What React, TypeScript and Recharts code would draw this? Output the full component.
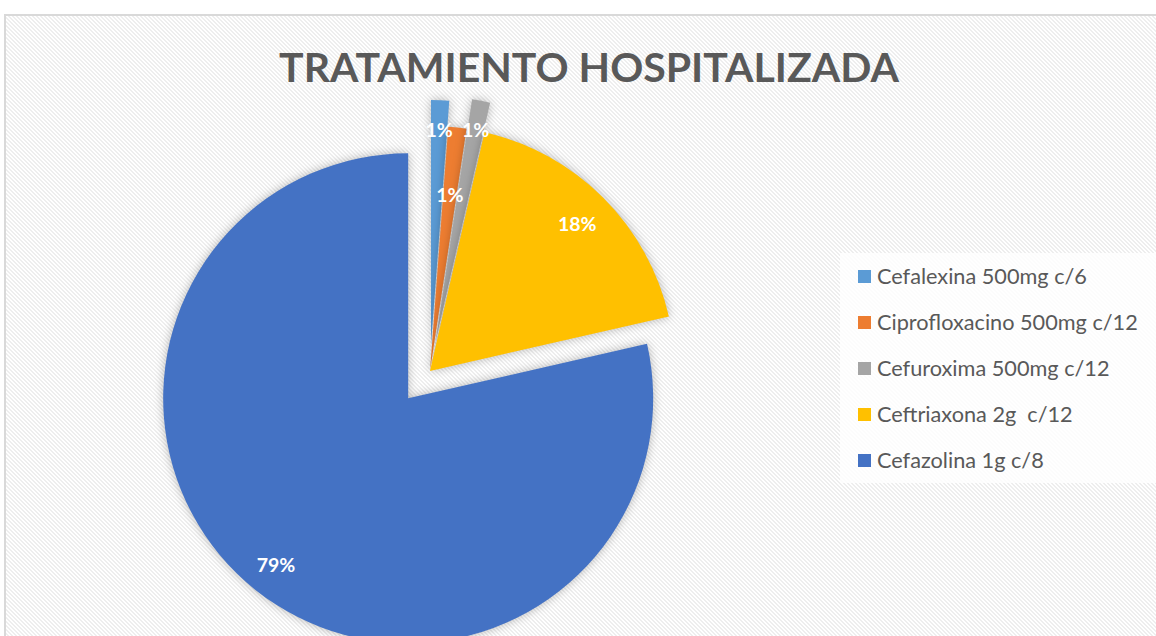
import React from 'react';
import { PieChart, Pie, Cell, Legend } from 'recharts';

const title = 'TRATAMIENTO HOSPITALIZADA';
const names = [
  'Cefalexina 500mg c/6',
  'Ciprofloxacino 500mg c/12',
  'Cefuroxima 500mg c/12',
  'Ceftriaxona 2g  c/12',
  'Cefazolina 1g c/8',
];
const counts = [1, 1, 1, 15, 66];
const colors = ['#5B9BD5', '#ED7D31', '#A5A5A5', '#FFC000', '#4472C4'];

const data = names.map((name, i) => ({ name, value: counts[i] }));

// style / layout
const W = 1156;
const H = 636;
const CX = 430;
const CY = 371;
const R = 245;
const explode = [26, 0, 30, 0, 35];
const labelRadius = [0.88, 0.725, 0.88, 0.85, 0.865];
const drawOrder = [4, 0, 1, 2, 3];
const RAD = Math.PI / 180;

const total = counts.reduce((a, b) => a + b, 0);
const offsets = counts.map((v, i) => {
  const before = counts.slice(0, i).reduce((a, b) => a + b, 0);
  const mid = 90 - (360 * (before + v / 2)) / total;
  return { dx: explode[i] * Math.cos(mid * RAD), dy: -explode[i] * Math.sin(mid * RAD) };
});

const renderLegend = () => (
  <div
    style={{
      width: 316,
      height: 230,
      background: 'rgba(255,255,255,0.8)',
      boxSizing: 'border-box',
      paddingTop: 0,
    }}
  >
    {names.map((n, i) => (
      <div key={n} style={{ display: 'flex', alignItems: 'center', height: 46 }}>
        <div style={{ width: 13, height: 13, background: colors[i], marginLeft: 18, marginRight: 6 }} />
        <span style={{ fontFamily: 'Lato', fontSize: 21.7, color: '#595959', whiteSpace: 'pre' }}>{n}</span>
      </div>
    ))}
  </div>
);

export default function App() {
  return (
    <div style={{ position: 'absolute', left: 0, top: 0, width: W, height: H, overflow: 'hidden', background: '#fff' }}>
      <style>{`.recharts-pie-sector path { filter: drop-shadow(0px 0px 5px rgba(0,0,0,0.28)); }`}</style>
      <div
        style={{
          position: 'absolute',
          left: 4,
          top: 14,
          width: 1170,
          height: 640,
          border: '2px solid #d9d9d9',
          background:
            'repeating-linear-gradient(45deg, #ffffff 0px, #ffffff 1.414px, #eeeeee 1.414px, #eeeeee 2.828px)',
        }}
      />
      <div style={{ position: 'absolute', left: 0, top: 0 }}>
        <PieChart width={W} height={H} margin={{ top: 0, right: 0, bottom: 0, left: 0 }}>
          <text
            x={589}
            y={82}
            textAnchor="middle"
            style={{ fontFamily: 'Lato', fontWeight: 700, fontSize: 41, fill: '#595959' }}
          >
            {title}
          </text>
          {drawOrder.map((j) => (
            <Pie
              key={j}
              data={data}
              dataKey="value"
              nameKey="name"
              cx={CX + offsets[j].dx}
              cy={CY + offsets[j].dy}
              innerRadius={0}
              outerRadius={R}
              startAngle={90}
              endAngle={-270}
              stroke="none"
              isAnimationActive={false}
              labelLine={false}
              legendType="none"
              label={(p: any) => {
                if (p.index !== j) return null;
                const r = R * labelRadius[j];
                const x = p.cx + r * Math.cos(-p.midAngle * RAD);
                const y = p.cy + r * Math.sin(-p.midAngle * RAD);
                return (
                  <text
                    x={x}
                    y={y}
                    textAnchor="middle"
                    dominantBaseline="central"
                    style={{ fontFamily: 'Lato', fontWeight: 700, fontSize: 19.5, fill: '#ffffff' }}
                  >
                    {`${Math.round(p.percent * 100)}%`}
                  </text>
                );
              }}
            >
              {data.map((d, i) => (
                <Cell key={d.name} fill={i === j ? colors[i] : 'none'} stroke="none" />
              ))}
            </Pie>
          ))}
          <Legend
            content={renderLegend}
            wrapperStyle={{ position: 'absolute', left: 840, top: 253, width: 316, height: 230 }}
          />
        </PieChart>
      </div>
    </div>
  );
}
